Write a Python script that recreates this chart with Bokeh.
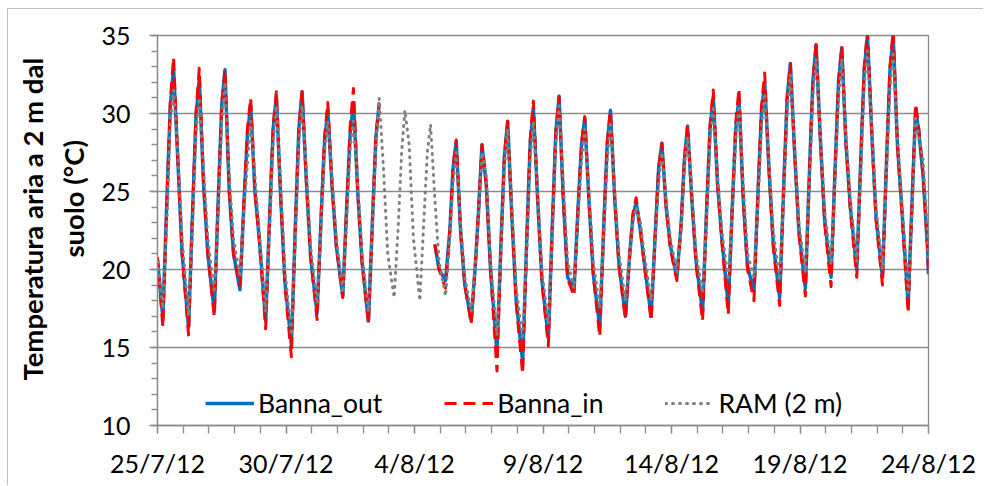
import math
from bokeh.plotting import figure
from bokeh.models import FixedTicker, Range1d, Legend, LegendItem, Title
from bokeh.embed import file_html
from bokeh.resources import INLINE

nan = float("nan")

# ---- data ----
START_LABELS = ["25/7/12", "30/7/12", "4/8/12", "9/8/12", "14/8/12", "19/8/12", "24/8/12"]
N_DAYS = 30
SAMPLE_HOURS = [5, 9, 12, 15, 19, 23]      # readings per day (local hour)
Y_TITLE = ["Temperatura aria a 2 m dal", "suolo (°C)"]
SERIES_NAMES = ["Banna_out", "Banna_in", "RAM (2 m)"]

# each series: value at 0 h, then 6 readings per day, then value at the end (24/8 0 h)
BANNA_OUT = [20.6,
    16.9, 24.9, 30.5, 32.9, 27.0, 21.0,   # 25/7
    16.3, 24.2, 29.8, 32.2, 25.5, 21.0,   # 26/7
    17.3, 25.0, 30.5, 32.8, 25.0, 21.0,   # 27/7
    18.7, 24.6, 28.7, 30.5, 25.0, 22.0,   # 28/7
    16.7, 23.9, 29.0, 31.1, 24.7, 19.2,   # 29/7
    15.2, 23.3, 29.0, 31.4, 25.7, 20.8,   # 30/7
    17.2, 23.7, 28.2, 30.2, 25.4, 21.5,   # 31/7
    18.3, 24.5, 28.8, 30.7, 25.0, 20.5,   # 1/8
    16.7, 23.6, 28.5, 30.6, nan, nan,     # 2/8
    nan, nan, nan, nan, nan, nan,         # 3/8
    nan, nan, nan, nan, 21.6, 20.0,       # 4/8
    19.3, 22.5, 26.5, 28.2, 22.5, 19.0,   # 5/8
    16.7, 20.5, 24.0, 28.0, 25.5, 20.0,   # 6/8
    14.7, 22.1, 27.3, 29.5, 23.3, 18.0,   # 7/8
    14.1, 22.3, 28.0, 30.4, 24.5, 19.3,   # 8/8
    15.6, 23.4, 28.8, 31.1, 24.5, 19.5,   # 9/8
    18.8, 24.3, 28.0, 29.7, 24.3, 19.7,   # 10/8
    16.3, 23.2, 28.1, 30.2, 24.5, 20.3,   # 11/8
    17.0, 21.0, 23.4, 24.3, 22.5, 20.2,   # 12/8
    17.0, 22.5, 26.5, 28.1, 24.0, 21.5,   # 13/8
    19.5, 22.9, 27.0, 29.2, 24.5, 20.5,   # 14/8
    17.3, 24.2, 29.0, 31.1, 25.5, 22.0,   # 15/8
    17.7, 24.4, 29.0, 31.0, 24.5, 20.2,   # 16/8
    18.6, 25.3, 30.0, 32.0, 26.5, 21.7,   # 17/8
    18.2, 25.7, 31.0, 33.2, 27.5, 22.5,   # 18/8
    18.8, 26.6, 32.0, 34.4, 28.4, 23.2,   # 19/8
    19.5, 26.9, 32.0, 34.2, 28.0, 24.0,   # 20/8
    20.0, 27.5, 32.8, 35.0, 28.8, 23.4,   # 21/8
    19.5, 27.3, 32.7, 35.0, 28.0, 24.0,   # 22/8
    17.8, 25.0, 30.3, 28.8, 26.0, 21.5,   # 23/8
    19.7]

BANNA_IN = [20.8,
    16.3, 24.9, 30.8, 33.6, 27.0, 21.0,
    15.8, 24.2, 30.1, 32.9, 25.5, 21.0,
    17.0, 25.0, 30.6, 32.8, 25.0, 21.0,
    19.0, 24.8, 29.0, 31.0, 25.0, 22.0,
    16.2, 23.9, 29.2, 31.4, 24.7, 19.0,
    14.4, 23.3, 29.0, 31.4, 25.7, 20.8,
    16.8, 23.7, 28.5, 30.7, 25.4, 21.5,
    18.2, 24.5, 29.3, 31.6, 25.0, 20.5,
    16.5, 23.6, 28.6, 30.7, nan, nan,
    nan, nan, nan, nan, nan, nan,
    nan, nan, nan, nan, 21.6, 20.0,
    18.8, 22.5, 26.6, 28.3, 22.5, 19.0,
    16.5, 20.5, 24.0, 28.0, 25.5, 20.0,
    13.5, 22.0, 27.3, 29.5, 23.3, 17.8,
    13.3, 22.2, 28.3, 30.8, 24.5, 19.2,
    15.1, 23.4, 28.8, 31.1, 24.5, 19.4,
    18.3, 24.3, 28.1, 29.8, 24.3, 19.6,
    15.7, 23.2, 28.1, 30.2, 24.5, 20.2,
    16.8, 21.0, 23.6, 24.6, 22.5, 20.1,
    16.7, 22.5, 26.5, 28.1, 24.0, 21.3,
    19.3, 22.9, 27.0, 29.2, 24.5, 20.3,
    16.7, 24.2, 29.3, 31.5, 25.5, 21.8,
    17.1, 24.4, 29.4, 31.6, 24.5, 20.0,
    18.0, 25.3, 30.4, 32.6, 26.5, 21.5,
    17.7, 25.7, 31.0, 33.2, 27.5, 22.3,
    18.3, 26.6, 32.0, 34.4, 28.4, 23.0,
    18.9, 26.9, 32.1, 34.3, 28.0, 23.8,
    19.5, 27.5, 33.0, 35.3, 28.8, 23.2,
    19.0, 27.3, 33.0, 35.3, 28.0, 23.8,
    17.2, 25.0, 30.6, 29.0, 26.0, 21.5,
    19.7]

RAM_2M = [20.5,
    17.5, 23.5, 29.5, 31.5, 27.5, 22.0,
    17.0, 23.0, 28.8, 31.0, 26.5, 22.0,
    18.5, 24.0, 29.5, 32.0, 26.0, 22.0,
    19.5, 24.0, 26.8, 29.5, 26.0, 22.5,
    17.3, 23.0, 28.0, 30.5, 25.5, 20.0,
    15.8, 22.3, 28.0, 30.5, 26.5, 21.5,
    17.8, 23.0, 27.5, 29.5, 26.0, 22.0,
    18.5, 23.5, 27.8, 29.5, 25.5, 21.0,
    17.3, 23.0, 28.0, 31.0, 26.5, 21.0,
    18.2, 23.0, 27.5, 30.2, 28.0, 22.0,
    18.0, 23.5, 27.5, 29.3, 24.5, 20.5,
    18.3, 22.0, 25.5, 27.5, 23.0, 19.5,
    17.3, 20.5, 23.5, 27.5, 26.0, 20.5,
    15.8, 21.5, 26.5, 29.0, 24.0, 18.8,
    15.5, 21.5, 27.0, 29.5, 25.0, 20.0,
    16.5, 22.5, 28.0, 30.5, 25.5, 20.5,
    18.8, 23.5, 27.0, 29.0, 25.0, 20.5,
    17.5, 22.5, 27.0, 29.5, 25.0, 21.0,
    18.0, 20.8, 23.0, 24.0, 23.0, 20.8,
    18.0, 22.0, 25.5, 27.5, 24.5, 22.0,
    19.8, 22.5, 26.5, 28.5, 25.0, 21.0,
    18.5, 23.5, 28.3, 30.5, 26.0, 22.5,
    19.3, 23.8, 28.3, 30.5, 25.5, 21.0,
    19.5, 24.5, 29.0, 31.3, 27.0, 22.5,
    19.3, 25.0, 30.0, 32.5, 28.0, 23.0,
    19.8, 25.8, 31.0, 33.5, 28.8, 23.8,
    20.3, 26.0, 31.0, 33.5, 28.5, 24.5,
    20.5, 26.5, 31.8, 34.0, 29.3, 24.0,
    20.0, 26.5, 31.5, 34.0, 28.5, 24.5,
    18.5, 24.0, 29.7, 28.5, 27.0, 22.5,
    20.5]

# sampling schedule -> time in days since 25/7/12 00:00
hours = [0] + [d * 24 + h for d in range(N_DAYS) for h in SAMPLE_HOURS] + [N_DAYS * 24]
xdays = [h / 24 for h in hours]

FONT = "Lato"
GRID = "#8c8c8c"

p = figure(width=976, height=477, x_range=Range1d(0, N_DAYS), y_range=Range1d(10, 35),
           output_backend="svg", toolbar_location=None,
           min_border_left=149, min_border_right=56, min_border_top=26, min_border_bottom=61)
p.title.visible = False
p.styles = {"border-left": "1px solid #bfbfbf", "border-top": "1px solid #bfbfbf",
            "margin-left": "7px", "margin-top": "8px"}
p.background_fill_color = "white"
p.border_fill_color = "white"
p.outline_line_color = GRID
p.outline_line_width = 1.3

r_out = p.line(xdays, BANNA_OUT, line_color="#0070c0", line_width=3.5, line_join="round")
r_in = p.line(xdays, BANNA_IN, line_color="#ff0000", line_width=3, line_dash="12 7",
              line_join="round")
r_ram = p.line(xdays, RAM_2M, line_color="#808080", line_width=3, line_dash="1 6",
               line_cap="round", line_join="round")

# axes
p.xaxis.ticker = FixedTicker(ticks=list(range(0, N_DAYS + 1, 5)),
                             minor_ticks=list(range(0, N_DAYS + 1)))
p.xaxis.major_label_overrides = {i * 5: lab for i, lab in enumerate(START_LABELS)}
p.yaxis.ticker = FixedTicker(ticks=list(range(10, 36, 5)), minor_ticks=list(range(10, 36)))

for ax in (p.xaxis[0], p.yaxis[0]):
    ax.axis_line_color = GRID
    ax.axis_line_width = 1.3
    ax.major_tick_line_color = GRID
    ax.minor_tick_line_color = GRID
    ax.major_tick_line_width = 1.3
    ax.minor_tick_line_width = 1.3
    ax.major_tick_in = 0
    ax.minor_tick_in = 0
    ax.major_label_text_font = FONT
    ax.major_label_text_font_size = "25px"
    ax.major_label_text_color = "black"

p.xaxis.major_tick_out = 8
p.xaxis.minor_tick_out = 8
p.xaxis.major_label_standoff = 14
p.yaxis.major_tick_out = 8
p.yaxis.minor_tick_out = 6
p.yaxis.major_label_standoff = 19

# two-line y title as stacked side titles (inner line first)
for txt, off, va, sto in ((Y_TITLE[1], 168, "top", 14), (Y_TITLE[0], 45, "middle", 0)):
    p.add_layout(Title(text=txt, align="left", offset=off, vertical_align=va,
                       standoff=sto, text_font=FONT, text_font_size="27.5px",
                       text_font_style="bold", text_color="black"), "left")

p.xgrid.grid_line_color = None
p.ygrid.grid_line_color = GRID
p.ygrid.grid_line_width = 1.3

legend = Legend(items=[LegendItem(label=SERIES_NAMES[0], renderers=[r_out]),
                       LegendItem(label=SERIES_NAMES[1], renderers=[r_in]),
                       LegendItem(label=SERIES_NAMES[2], renderers=[r_ram])],
                orientation="horizontal", location=(48, 6), spacing=62,
                glyph_width=49, label_standoff=4, padding=0, margin=0,
                border_line_color=None, background_fill_alpha=0,
                label_text_font=FONT, label_text_font_size="26.5px",
                label_text_color="black")
p.add_layout(legend)

open("out.html", "w").write(file_html(p, INLINE))
